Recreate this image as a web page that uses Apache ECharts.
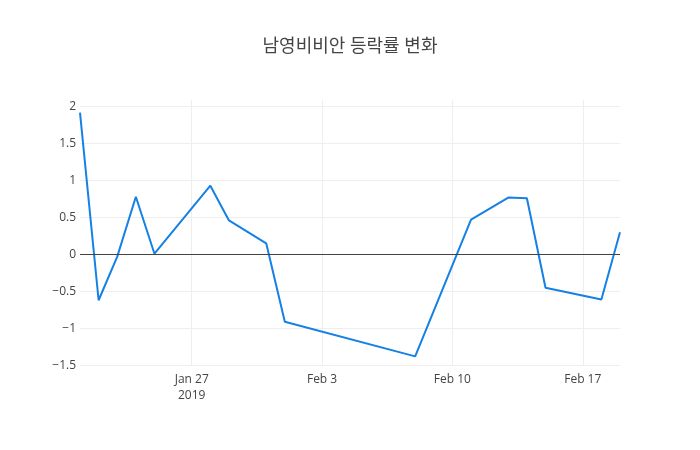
<!DOCTYPE html>
<html>
<head>
<meta charset="utf-8">
<script src="https://cdn.jsdelivr.net/npm/echarts@6/dist/echarts.min.js"></script>
<style>
  html, body { margin: 0; padding: 0; background: #fff; }
</style>
</head>
<body>
<div id="chart" style="width: 700px; height: 450px;"></div>
<script>
// 데이터
const dates = ['2019-01-21', '2019-01-22', '2019-01-23', '2019-01-24', '2019-01-25',
  '2019-01-28', '2019-01-29', '2019-01-31', '2019-02-01', '2019-02-08',
  '2019-02-11', '2019-02-13', '2019-02-14', '2019-02-15', '2019-02-18', '2019-02-19'];
const changeRate = [1.92, -0.62, -0.03, 0.78, 0.01,
  0.93, 0.46, 0.15, -0.91, -1.38,
  0.47, 0.77, 0.76, -0.45, -0.61, 0.30];
const xTickDates = ['2019-01-27', '2019-02-03', '2019-02-10', '2019-02-17'];
const yTicks = [-1.5, -1, -0.5, 0, 0.5, 1, 1.5, 2];

const monthNames = ['Jan', 'Feb', 'Mar', 'Apr', 'May', 'Jun', 'Jul', 'Aug', 'Sep', 'Oct', 'Nov', 'Dec'];
const toTime = s => {
  const p = s.split('-').map(Number);
  return new Date(p[0], p[1] - 1, p[2]).getTime();
};
const xTickValues = xTickDates.map(toTime);

const font = '"Open Sans", "Noto Sans CJK KR", sans-serif';
const chart = echarts.init(document.getElementById('chart'));

const option = {
  animation: false,
  title: {
    text: '남영비비안 등락률 변화',
    left: 'center',
    top: 33,
    textStyle: { fontFamily: font, fontSize: 18, fontWeight: 'normal', color: '#444' }
  },
  grid: { left: 80, right: 80, top: 100, bottom: 84 },
  // 날짜는 타임스탬프 값 축으로 (customValues 사용)
  xAxis: {
    type: 'value',
    min: toTime(dates[0]),
    max: toTime(dates[dates.length - 1]),
    axisLine: { show: false },
    axisTick: { show: false, customValues: xTickValues },
    splitLine: { show: true, lineStyle: { color: '#eee', width: 1 } },
    axisLabel: {
      customValues: xTickValues,
      margin: 6,
      fontFamily: font,
      fontSize: 12,
      color: '#444',
      lineHeight: 16,
      formatter: function (value) {
        const d = new Date(value);
        let s = monthNames[d.getMonth()] + ' ' + d.getDate();
        if (value === xTickValues[0]) s += '\n' + d.getFullYear();
        return s;
      }
    }
  },
  yAxis: {
    type: 'value',
    min: -1.51,
    max: 2.09,
    axisLine: { show: false },
    axisTick: { show: false, customValues: yTicks },
    splitLine: { show: true, lineStyle: { color: '#eee', width: 1 } },
    axisLabel: {
      customValues: yTicks,
      margin: 4,
      fontFamily: font,
      fontSize: 12,
      color: '#444',
      formatter: v => String(v).replace('-', '\u2212')
    }
  },
  series: [
    {
      type: 'line',
      data: dates.map((d, i) => [toTime(d), changeRate[i]]),
      showSymbol: false,
      lineStyle: { color: '#1580e5', width: 2 },
      itemStyle: { color: '#1580e5' },
      // 0 기준선
      markLine: {
        silent: true,
        symbol: 'none',
        label: { show: false },
        lineStyle: { color: '#444', width: 1, type: 'solid' },
        data: [{ yAxis: 0 }]
      }
    }
  ]
};

chart.setOption(option);
</script>
</body>
</html>
